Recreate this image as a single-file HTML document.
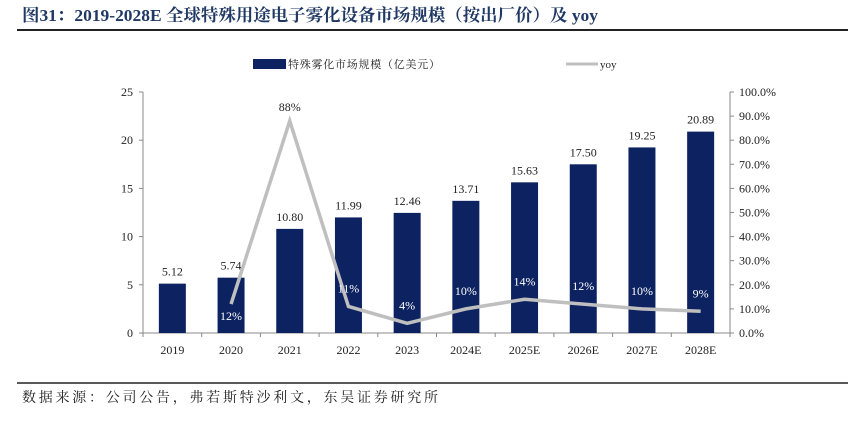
<!DOCTYPE html>
<html><head><meta charset="utf-8"><style>
body{margin:0;background:#fff;width:864px;height:416px;overflow:hidden}
text{font-family:"Liberation Serif","Noto Serif CJK SC",serif}
</style></head><body>
<svg id="c" width="864" height="416">
<text x="22" y="21" font-size="17" font-weight="bold" fill="#1f3864" textLength="576" lengthAdjust="spacingAndGlyphs">图31：2019-2028E 全球特殊用途电子雾化设备市场规模（按出厂价）及 yoy</text>
<line x1="17" y1="30" x2="848" y2="30" stroke="#222" stroke-width="2"/>
<rect x="253" y="59" width="33" height="10" fill="#0d2260"/>
<text x="288" y="68" font-size="11" fill="#222" textLength="152">特殊雾化市场规模（亿美元）</text>
<line x1="566" y1="64" x2="598" y2="64" stroke="#bfbfbf" stroke-width="3"/>
<text x="600" y="68" font-size="11" fill="#222">yoy</text>
<g id="plot"></g>
<line x1="17" y1="383" x2="848" y2="383" stroke="#222" stroke-width="1.5"/>
<text x="22" y="402" font-size="14" fill="#222" textLength="416">数据来源：公司公告，弗若斯特沙利文，东吴证券研究所</text>
</svg>
<script>
const categories=["2019","2020","2021","2022","2023","2024E","2025E","2026E","2027E","2028E"];
const sizeValues=[5.12,5.74,10.80,11.99,12.46,13.71,15.63,17.50,19.25,20.89];
const yoyValues=[null,12,88,11,4,10,14,12,10,9];
const leftTicks=[0,5,10,15,20,25];
const rightTicks=[0,10,20,30,40,50,60,70,80,90,100];
const NS="http://www.w3.org/2000/svg";
const g=document.getElementById("plot");
const X0=143,X1=730,Y0=333,Y1=92;
const bw=(X1-X0)/categories.length;
const xc=i=>X0+bw*(i+0.5);
const yL=v=>Y0-(v/25)*(Y0-Y1);
const yR=v=>Y0-(v/100)*(Y0-Y1);
function mk(t,a){const e=document.createElementNS(NS,t);for(const k in a)e.setAttribute(k,a[k]);g.appendChild(e);return e;}
let e;
e=mk("line",{x1:X0,y1:Y0,x2:X1,y2:Y0,stroke:"#888"});


e=mk("line",{x1:X0,y1:Y1,x2:X0,y2:Y0,stroke:"#888"});


e=mk("line",{x1:X1,y1:Y1,x2:X1,y2:Y0,stroke:"#888"});


leftTicks.forEach(v=>{
 mk("line",{x1:X0-4,y1:yL(v),x2:X0,y2:yL(v),stroke:"#888"});
 e=mk("text",{x:X0-10,y:yL(v)+4,"font-size":12,"text-anchor":"end",fill:"#222"});e.textContent=v;
 
 
});
rightTicks.forEach(v=>{
 mk("line",{x1:X1,y1:yR(v),x2:X1+4,y2:yR(v),stroke:"#888"});
 e=mk("text",{x:X1+9,y:yR(v)+4,"font-size":12,fill:"#222"});e.textContent=v.toFixed(1)+"%";
 
 
});
for(let i=0;i<=categories.length;i++){mk("line",{x1:X0+bw*i,y1:Y0,x2:X0+bw*i,y2:Y0+4,stroke:"#888"});}
categories.forEach((c,i)=>{
 e=mk("rect",{x:xc(i)-13.5,y:yL(sizeValues[i]),width:27,height:Y0-yL(sizeValues[i]),fill:"#0d2260"});
 
 
 e=mk("text",{x:xc(i),y:yL(sizeValues[i])-8,"font-size":12,"text-anchor":"middle",fill:"#222"});e.textContent=sizeValues[i].toFixed(2);
 
 
 e=mk("text",{x:xc(i),y:Y0+21,"font-size":12,"text-anchor":"middle",fill:"#222"});e.textContent=c;
 
 
});
const pts=[];yoyValues.forEach((v,i)=>{if(v!==null)pts.push(xc(i)+","+yR(v));});
e=mk("polyline",{points:pts.join(" "),fill:"none",stroke:"#bfbfbf","stroke-width":3.5});


yoyValues.forEach((v,i)=>{if(v===null)return;
 const above=v>50;
 e=mk("text",{x:xc(i),y:above?yR(v)-10:yR(v)+(i==1?16:-14),"font-size":12,"text-anchor":"middle",fill:above?"#222":"#fff"});e.textContent=v+"%";
 
 
});
</script>
</body></html>
